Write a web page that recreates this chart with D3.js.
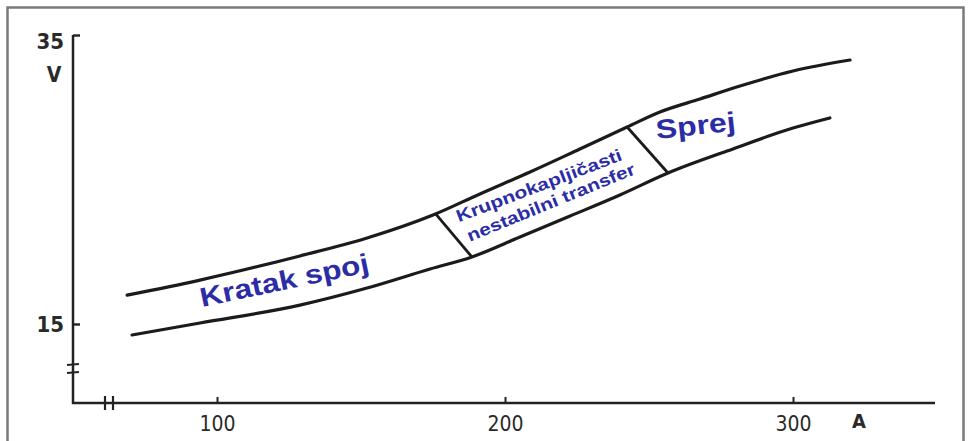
<!DOCTYPE html>
<html>
<head>
<meta charset="utf-8">
<script src="https://cdn.jsdelivr.net/npm/d3@7"></script>
<style>
  body { margin: 0; background: #fff; }
  svg { display: block; }
  .tick text { font-family: "DejaVu Sans Condensed", "Liberation Sans Narrow", sans-serif; font-stretch: condensed; fill: #2a2a2a; }
  .regionText { font-family: "Liberation Sans", Arial, sans-serif; font-weight: bold; fill: #2b2ca6; }
</style>
</head>
<body>
<div id="chart"></div>
<script>
// current (A) and voltage (V)
var upperA = [68.8, 94.1, 128.8, 152.1, 175, 191.3, 208.7, 226, 242.4, 253.8, 267.7, 281.6, 300, 319.8];
var upperV = [17.0, 18.04, 19.71, 20.95, 22.54, 24.0, 25.52, 27.11, 28.63, 29.67, 30.57, 31.47, 32.51, 33.27];

var lowerA = [70.5, 94.1, 128.8, 152.1, 174, 188.5, 205.2, 222.6, 239.9, 256.6, 277.1, 300, 312.8];
var lowerV = [14.24, 15.07, 16.31, 17.49, 18.81, 19.64, 21.02, 22.47, 23.93, 25.45, 26.97, 28.56, 29.26];

// boundaries between transfer modes: [A top, V top, A bottom, V bottom]
var boundaries = [
  [176, 22.6, 188.5, 19.64],
  [242.4, 28.63, 256.6, 25.45]
];

var xTicks = [100, 200, 300];
var yTicks = [15, 35];

// region labels: text, A, V, angle, font size, length
var regionLabels = [
  ["Kratak spoj", 124, 17.4, -11.8, 27, 172],
  ["Krupnokapljičasti", 212.5, 24.2, -20.8, 17, 176],
  ["nestabilni transfer", 216.7, 23.05, -22.2, 17, 180],
  ["Sprej", 266.5, 28.1, -6, 27, 80]
];

var svgWidth = 970;
var svgHeight = 441;

var svg = d3.select("#chart")
  .append("svg")
  .attr("width", svgWidth)
  .attr("height", svgHeight);

// frame
svg.append("rect")
  .attr("x", 7.5).attr("y", 7.5)
  .attr("width", 956).attr("height", 450)
  .attr("fill", "#fff")
  .attr("stroke", "#7a7a7a")
  .attr("stroke-width", 2.5);

var xScale = d3.scaleLinear().domain([100, 300]).range([217, 793]);
var yScale = d3.scaleLinear().domain([15, 35]).range([324, 35]);

var axisX0 = 73;   // y axis position
var axisY0 = 403;  // x axis position

// axis lines
svg.append("path")
  .attr("d", `M${axisX0},${yScale(35)} V${axisY0} H935`)
  .attr("fill", "none")
  .attr("stroke", "#222")
  .attr("stroke-width", 2.5);

// axis break marks
svg.append("g").selectAll("line")
  .data([-4, 4])
  .enter()
  .append("line")
  .attr("x1", (d) => axisX0 - 6)
  .attr("x2", (d) => axisX0 + 6)
  .attr("y1", (d) => 369 + d)
  .attr("y2", (d) => 369 + d - 1)
  .attr("stroke", "#222")
  .attr("stroke-width", 2.2);

svg.append("g").selectAll("line")
  .data([-4, 4])
  .enter()
  .append("line")
  .attr("x1", (d) => 109 + d)
  .attr("x2", (d) => 109 + d)
  .attr("y1", axisY0 - 7)
  .attr("y2", axisY0 + 7)
  .attr("stroke", "#222")
  .attr("stroke-width", 2.2);

// axes (ticks only, lines drawn above)
var bottomAxis = d3.axisBottom(xScale).tickValues(xTicks).tickSize(-6).tickPadding(13);
var leftAxis = d3.axisLeft(yScale).tickValues(yTicks).tickSize(-7).tickPadding(9);

var gx = svg.append("g")
  .attr("transform", `translate(0, ${axisY0})`)
  .call(bottomAxis);
gx.select(".domain").remove();
gx.selectAll(".tick line").attr("stroke", "#222").attr("stroke-width", 2);
gx.selectAll(".tick text").attr("font-size", 21);

var gy = svg.append("g")
  .attr("transform", `translate(${axisX0}, 0)`)
  .call(leftAxis);
gy.select(".domain").remove();
gy.selectAll(".tick line").attr("stroke", "#222").attr("stroke-width", 2.4);
gy.selectAll(".tick text")
  .attr("font-size", 22)
  .attr("font-weight", "bold")
  .attr("dy", (d) => (d === 35 ? "0.62em" : "0.36em"));

// unit labels
svg.append("text")
  .attr("x", 54).attr("y", 82)
  .attr("text-anchor", "middle")
  .attr("font-family", "DejaVu Sans Condensed, sans-serif")
  .attr("font-weight", "bold")
  .attr("font-size", 21)
  .attr("fill", "#2a2a2a")
  .text("V");

svg.append("text")
  .attr("x", 859).attr("y", 428)
  .attr("text-anchor", "middle")
  .attr("font-family", "DejaVu Sans Condensed, sans-serif")
  .attr("font-weight", "bold")
  .attr("font-size", 20)
  .attr("fill", "#2a2a2a")
  .text("A");

// curves
var line = d3.line()
  .x((d) => xScale(d[0]))
  .y((d) => yScale(d[1]))
  .curve(d3.curveMonotoneX);

var upper = upperA.map((a, i) => [a, upperV[i]]);
var lower = lowerA.map((a, i) => [a, lowerV[i]]);

svg.selectAll(".curve")
  .data([upper, lower])
  .enter()
  .append("path")
  .attr("class", "curve")
  .attr("d", line)
  .attr("fill", "none")
  .attr("stroke", "#1b1b1b")
  .attr("stroke-width", 3.2)
  .attr("stroke-linecap", "round");

svg.selectAll(".boundary")
  .data(boundaries)
  .enter()
  .append("line")
  .attr("class", "boundary")
  .attr("x1", (d) => xScale(d[0]))
  .attr("y1", (d) => yScale(d[1]))
  .attr("x2", (d) => xScale(d[2]))
  .attr("y2", (d) => yScale(d[3]))
  .attr("stroke", "#1b1b1b")
  .attr("stroke-width", 2.8);

// region names
svg.selectAll(".regionText")
  .data(regionLabels)
  .enter()
  .append("text")
  .attr("class", "regionText")
  .attr("text-anchor", "middle")
  .attr("transform", (d) => `translate(${xScale(d[1])}, ${yScale(d[2])}) rotate(${d[3]})`)
  .attr("font-size", (d) => d[4])
  .attr("textLength", (d) => d[5])
  .attr("lengthAdjust", "spacingAndGlyphs")
  .text((d) => d[0]);
</script>
</body>
</html>
